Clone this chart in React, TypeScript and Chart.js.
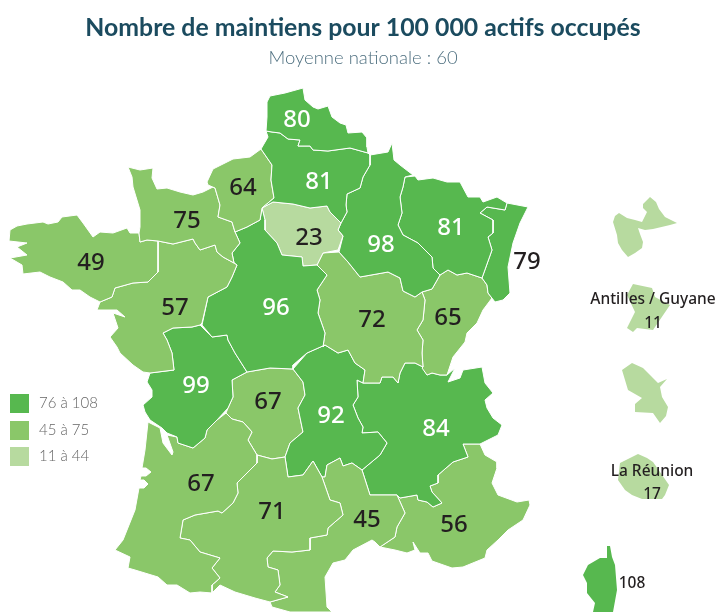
import React, { useEffect, useRef } from "react";
import { Chart, registerables } from "chart.js";

Chart.register(...registerables);

const titleText = "Nombre de maintiens pour 100 000 actifs occupés";
const subtitleText = "Moyenne nationale : 60";
const FONT = "Lato, 'Noto Sans', sans-serif";
const NUM_FONT = "'Noto Sans', sans-serif";

const DARK = "#57b84f";
const MID = "#8ac769";
const LIGHT = "#b7da9f";
const legendLabels = ["76 à 108", "45 à 75", "11 à 44"];
const legendColors = [DARK, MID, LIGHT];
const legendX = [19.5, 19.5, 19.5];
const legendY = [403.5, 430.5, 456.5];

const colorFor = (v: number) => (v >= 76 ? DARK : v >= 45 ? MID : LIGHT);

const regionNames = ["Nord", "Picardie", "HauteNormandie", "BasseNormandie", "Bretagne", "PaysLoire", "Centre", "IDF", "Champagne", "Lorraine", "Alsace", "Bourgogne", "Franche", "Poitou", "Aquitaine", "MidiPyrenees", "Languedoc", "Auvergne", "Limousin", "RhoneAlpes", "PACA", "Guadeloupe", "Guyane", "Martinique", "Reunion", "Corse"];
const regionValues = [80, 81, 64, 75, 49, 57, 96, 23, 98, 81, 79, 72, 65, 99, 67, 71, 45, 92, 67, 84, 56, 11, 11, 11, 17, 108];
const labelX = [297, 319, 243, 187, 91, 175, 276, 309, 381, 451, 527, 372, 448, 196, 201, 272, 367, 331, 268, 436, 454];
const labelY = [120, 182, 188, 221, 263, 308, 308, 238, 245, 228, 262, 320, 318, 386, 484, 512, 520, 416, 402, 429, 525];
const labelDark = [false, false, true, true, true, true, false, true, false, false, true, true, true, false, true, true, true, false, true, false, true];

const sideTexts = ["Antilles / Guyane", "11", "La Réunion", "17", "108"];
const sideX = [653, 653, 652, 652, 632];
const sideY = [300, 324, 472, 495, 584];

const shapes: Record<string, number[][]> = {
  Nord: [[267,102],[270,96],[285,93],[303,88],[305,100],[313,107],[318,109],[328,106],[332,117],[340,123],[346,125],[348,133],[362,132],[367,138],[367,147],[368,153],[350,148],[328,151],[313,150],[310,146],[298,146],[300,140],[288,139],[280,133],[272,132],[266,131],[267,117]],
  Picardie: [[266,131],[272,132],[280,133],[288,139],[300,140],[298,146],[310,146],[313,150],[328,151],[350,148],[368,153],[370,155],[370,165],[363,177],[360,188],[347,194],[346,205],[347,212],[341,223],[330,212],[327,206],[310,208],[293,204],[273,202],[262,208],[274,198],[271,180],[272,165],[261,149],[268,137]],
  HauteNormandie: [[207,182],[213,169],[233,159],[250,157],[261,149],[272,165],[271,180],[274,198],[262,208],[260,220],[247,227],[235,232],[232,222],[218,217],[220,205],[215,188],[208,185]],
  BasseNormandie: [[128,167],[140,170],[153,168],[152,178],[157,189],[167,188],[180,192],[193,195],[203,192],[213,187],[215,188],[220,205],[218,217],[232,222],[235,232],[240,243],[232,253],[234,263],[223,257],[217,252],[215,245],[200,250],[195,243],[193,239],[173,244],[158,241],[147,240],[140,242],[139,233],[140,227],[140,210],[133,187],[132,177]],
  Bretagne: [[10,230],[17,226],[27,224],[43,222],[48,224],[58,222],[62,217],[77,215],[83,223],[93,237],[100,232],[113,233],[127,228],[130,233],[139,233],[140,242],[147,240],[158,241],[158,272],[148,282],[133,283],[115,288],[112,297],[100,302],[90,297],[80,290],[72,290],[63,282],[50,277],[40,272],[23,274],[22,265],[10,258],[27,255],[17,247],[27,243],[9,241]],
  PaysLoire: [[158,241],[173,244],[193,239],[195,243],[200,250],[215,245],[217,252],[223,257],[234,263],[237,265],[232,277],[227,287],[208,297],[202,323],[200,325],[192,327],[173,328],[163,333],[167,340],[172,353],[174,370],[158,372],[150,373],[143,372],[133,365],[120,353],[117,347],[110,337],[118,328],[113,313],[125,317],[117,310],[97,310],[100,302],[112,297],[115,288],[133,283],[148,282],[158,272]],
  Centre: [[235,232],[247,227],[260,220],[262,208],[265,220],[265,230],[277,243],[282,255],[302,257],[303,266],[317,265],[327,275],[317,290],[320,300],[318,313],[325,333],[323,347],[325,345],[307,353],[293,365],[293,369],[270,368],[247,372],[235,353],[228,340],[227,335],[212,337],[202,325],[208,297],[227,287],[232,277],[237,265],[234,263],[232,253],[240,243]],
  IDF: [[262,208],[273,202],[293,204],[310,208],[327,206],[330,212],[341,223],[338,230],[343,236],[338,250],[323,253],[317,265],[303,266],[302,257],[282,255],[277,243],[265,230],[265,220]],
  Champagne: [[370,155],[388,152],[392,143],[394,160],[400,165],[413,175],[405,177],[403,187],[400,197],[402,213],[398,225],[403,235],[418,243],[432,257],[433,268],[440,275],[432,289],[422,292],[415,297],[403,291],[400,278],[388,272],[360,277],[348,262],[339,252],[343,236],[338,230],[341,223],[347,212],[346,205],[347,194],[360,188],[363,177],[370,165]],
  Lorraine: [[405,177],[415,176],[418,180],[433,178],[447,182],[460,182],[468,197],[480,197],[483,202],[497,197],[507,203],[505,210],[487,207],[480,213],[493,220],[493,233],[488,237],[492,250],[482,278],[467,273],[457,275],[448,270],[440,275],[433,268],[432,257],[418,243],[403,235],[398,225],[402,213],[400,197],[403,187]],
  Alsace: [[507,203],[528,207],[520,223],[513,243],[508,267],[510,293],[503,300],[495,302],[488,293],[487,285],[482,278],[492,250],[488,237],[493,233],[493,220],[480,213],[487,207],[505,210]],
  Bourgogne: [[323,253],[339,252],[348,262],[360,277],[388,272],[400,278],[403,291],[415,297],[422,292],[425,300],[423,320],[417,330],[423,340],[422,353],[423,367],[415,363],[405,363],[400,373],[398,383],[393,377],[382,377],[380,383],[363,383],[365,370],[355,363],[348,350],[338,353],[325,345],[323,347],[325,333],[318,313],[320,300],[317,290],[327,275],[317,265]],
  Franche: [[422,292],[432,289],[440,275],[448,270],[457,275],[467,273],[482,278],[487,285],[488,293],[492,298],[483,310],[477,323],[467,333],[465,342],[453,357],[447,375],[440,375],[432,373],[427,375],[422,368],[423,367],[422,353],[423,340],[417,330],[423,320],[425,300]],
  Poitou: [[150,373],[158,372],[174,370],[172,353],[167,340],[163,333],[173,328],[192,327],[200,325],[212,337],[227,335],[228,340],[235,353],[247,372],[232,380],[233,397],[228,408],[217,420],[207,430],[205,438],[193,448],[178,443],[177,437],[167,433],[162,428],[150,420],[145,412],[143,405],[152,397],[152,390],[147,382]],
  Aquitaine: [[148,422],[160,428],[163,443],[172,455],[173,452],[167,435],[177,437],[178,443],[193,448],[205,438],[207,430],[217,420],[226,413],[232,419],[243,422],[252,432],[248,440],[257,455],[257,463],[245,475],[237,483],[238,493],[233,503],[222,513],[218,511],[195,515],[183,520],[180,538],[190,540],[200,552],[220,558],[212,568],[220,578],[212,585],[212,593],[200,592],[190,593],[177,585],[167,585],[158,577],[135,570],[128,568],[130,557],[115,550],[123,540],[135,510],[139,488],[144,488],[148,484],[144,480],[140,480],[141,476],[146,476],[151,472],[146,468],[142,468],[145,450]],
  MidiPyrenees: [[257,455],[272,459],[285,457],[288,477],[303,475],[313,461],[322,477],[330,500],[340,503],[343,515],[328,528],[327,535],[310,538],[310,550],[292,552],[273,551],[267,558],[268,567],[278,570],[280,585],[275,592],[288,597],[270,602],[255,598],[235,592],[220,585],[212,593],[212,585],[220,578],[212,568],[220,558],[200,552],[190,540],[180,538],[183,520],[195,515],[218,511],[222,513],[233,503],[238,493],[237,483],[245,475],[257,463]],
  Languedoc: [[322,477],[325,477],[327,465],[340,458],[343,466],[352,463],[362,470],[370,495],[385,495],[397,495],[405,513],[397,527],[395,537],[380,547],[375,542],[372,540],[353,550],[345,560],[333,563],[325,577],[327,607],[332,612],[290,612],[272,607],[270,602],[288,597],[275,592],[280,585],[278,570],[268,567],[267,558],[273,551],[292,552],[310,550],[310,538],[327,535],[328,528],[343,515],[340,503],[330,500]],
  Auvergne: [[293,369],[307,353],[325,345],[338,353],[348,350],[355,363],[365,370],[363,383],[357,380],[358,397],[353,405],[358,418],[363,427],[362,433],[378,432],[387,443],[380,455],[362,470],[352,463],[343,466],[340,458],[327,465],[325,477],[322,477],[313,461],[303,475],[288,477],[285,457],[290,443],[303,432],[298,408],[305,395],[303,382]],
  Limousin: [[232,380],[247,372],[270,368],[293,369],[303,382],[305,395],[298,408],[303,432],[290,443],[285,457],[272,459],[257,455],[248,440],[252,432],[243,422],[232,419],[226,413],[228,408],[233,397]],
  RhoneAlpes: [[363,383],[380,383],[382,377],[393,377],[398,383],[400,373],[405,363],[415,363],[423,367],[427,375],[432,373],[440,375],[447,375],[455,368],[448,382],[460,378],[463,370],[482,367],[485,383],[493,393],[485,400],[487,408],[493,418],[502,425],[498,435],[480,444],[463,444],[468,457],[453,462],[438,475],[438,483],[430,486],[432,492],[442,503],[433,507],[427,502],[418,500],[417,495],[400,498],[397,495],[385,495],[370,495],[362,470],[380,455],[387,443],[378,432],[362,433],[363,427],[358,418],[353,405],[358,397],[357,380]],
  PACA: [[397,495],[400,498],[417,495],[418,500],[427,502],[433,507],[442,503],[432,492],[430,486],[438,483],[438,475],[453,462],[468,457],[463,444],[480,444],[485,455],[497,462],[497,468],[492,483],[498,495],[517,502],[529,500],[530,505],[523,520],[508,530],[498,540],[487,550],[485,558],[463,567],[452,568],[432,561],[428,553],[420,553],[413,542],[415,550],[407,553],[395,550],[380,547],[395,537],[397,527],[405,513]],
  Guadeloupe: [[613,222],[615,216],[619,213],[627,218],[635,220],[642,222],[647,212],[643,208],[643,204],[650,197],[656,202],[659,209],[665,217],[677,223],[670,225],[653,229],[645,230],[638,228],[640,234],[643,242],[642,248],[635,253],[628,257],[622,250],[618,243],[617,235]],
  Guyane: [[633,284],[652,288],[655,297],[670,305],[653,330],[637,328],[633,332],[627,328],[635,312],[627,295]],
  Martinique: [[622,370],[632,363],[643,368],[651,376],[658,383],[667,379],[660,387],[662,397],[668,407],[666,416],[660,423],[653,413],[635,412],[635,404],[642,398],[628,390],[625,380]],
  Reunion: [[620,463],[630,458],[638,454],[647,458],[653,462],[660,472],[669,485],[665,495],[662,499],[642,499],[632,495],[625,490],[618,480]],
  Corse: [[607,546],[610,546],[612,557],[615,565],[617,590],[613,612],[593,612],[595,603],[587,593],[587,583],[583,575],[588,565],[600,558],[607,558]],
};

const overlay = {
  id: "mapText",
  afterDatasetsDraw(chart: any) {
    const { ctx, scales } = chart;
    const x = scales.x;
    const y = scales.y;
    ctx.save();
    ctx.textAlign = "center";
    ctx.textBaseline = "middle";
    ctx.font = `500 24px ${NUM_FONT}`;
    labelX.forEach((lx, i) => {
      ctx.fillStyle = labelDark[i] ? "#231f20" : "#ffffff";
      ctx.fillText(String(regionValues[i]), x.getPixelForValue(lx), y.getPixelForValue(labelY[i]));
    });
    ctx.fillStyle = "#231f20";
    sideTexts.forEach((t, i) => {
      ctx.font = `500 15.5px ${NUM_FONT}`;
      ctx.fillText(t, x.getPixelForValue(sideX[i]), y.getPixelForValue(sideY[i]));
    });
    ctx.textAlign = "left";
    legendLabels.forEach((t, i) => {
      const px = x.getPixelForValue(legendX[i]);
      const py = y.getPixelForValue(legendY[i]);
      ctx.fillStyle = legendColors[i];
      ctx.fillRect(px - 9.5, py - 9.5, 19, 19);
      ctx.fillStyle = "#666666";
      ctx.font = `300 15px ${FONT}`;
      ctx.fillText(t, px + 19.5, py);
    });
    ctx.restore();
  },
};

export default function App() {
  const ref = useRef<HTMLCanvasElement | null>(null);
  useEffect(() => {
    document.body.style.margin = "0";
    const chart = new Chart(ref.current as HTMLCanvasElement, {
      type: "scatter",
      data: {
        datasets: regionNames.map((name, i) => ({
          label: name,
          data: [...shapes[name], shapes[name][0]].map(([x, y]) => ({ x, y })),
          showLine: true,
          fill: "shape",
          backgroundColor: colorFor(regionValues[i]),
          borderColor: i >= 21 ? colorFor(regionValues[i]) : "#ffffff",
          borderWidth: i >= 21 ? 0 : 1,
          pointRadius: 0,
          pointHoverRadius: 0,
          tension: 0,
        })),
      },
      options: {
        responsive: false,
        animation: false,
        events: [],
        layout: { padding: { left: 8, top: 0, right: 0, bottom: 0 } },
        scales: {
          x: { type: "linear", min: 8, max: 718, display: false },
          y: { type: "linear", min: 72, max: 612, reverse: true, display: false },
        },
        plugins: {
          legend: { display: false },
          tooltip: { enabled: false },
          title: {
            display: true,
            text: titleText,
            color: "#1b4b5f",
            font: { family: FONT, size: 24.8, weight: "bold", lineHeight: "30px" },
            padding: { top: 13, bottom: 4 },
          },
          subtitle: {
            display: true,
            text: subtitleText,
            color: "#4f7080",
            font: { family: FONT, size: 18.5, weight: "300", lineHeight: "22px" },
            padding: { top: 0, bottom: 3 },
          },
        },
      },
      plugins: [overlay],
    } as any);
    return () => chart.destroy();
  }, []);
  return <canvas ref={ref} width={718} height={612} style={{ display: "block" }} />;
}
